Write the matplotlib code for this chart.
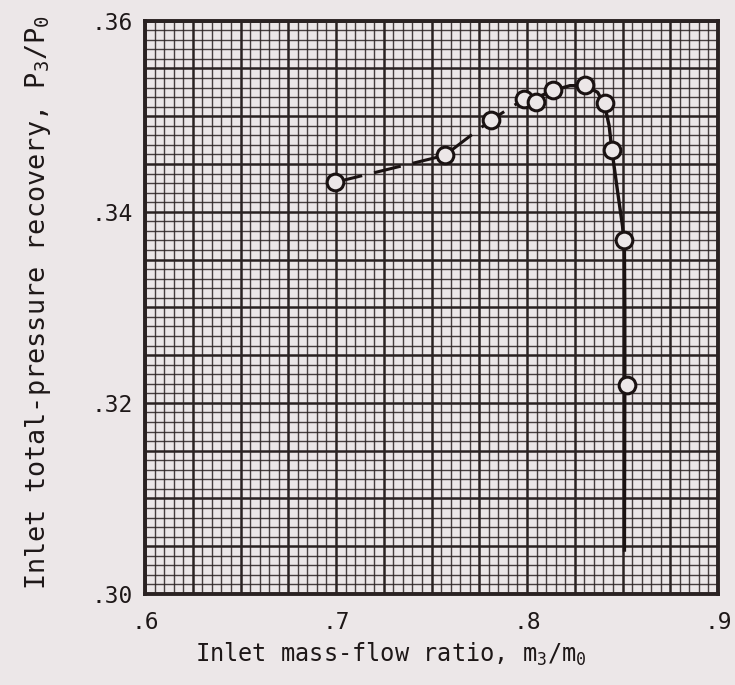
import matplotlib
matplotlib.use("Agg")
import matplotlib.pyplot as plt
from matplotlib.ticker import MultipleLocator, FuncFormatter

# test points (open circles)
mass_flow = [0.6997, 0.7569, 0.7811, 0.7985, 0.8045, 0.8137, 0.8306, 0.8406, 0.8444, 0.8510, 0.8522]
recovery = [0.3431, 0.3459, 0.3496, 0.3518, 0.3515, 0.3527, 0.3533, 0.3514, 0.3465, 0.3370, 0.3219]

# faired curve, dashed part
dash_x = [0.6997, 0.7569, 0.7811, 0.7985]
dash_y = [0.3431, 0.3459, 0.3496, 0.3518]

# faired curve, solid part
solid_x = [0.7985, 0.8045, 0.8137, 0.8225, 0.8306, 0.8370, 0.8406, 0.8430, 0.8444,
           0.8475, 0.8500, 0.8510, 0.8512, 0.8512, 0.8510]
solid_y = [0.3518, 0.3519, 0.3527, 0.3532, 0.3532, 0.3525, 0.3512, 0.3490, 0.3465,
           0.3420, 0.3385, 0.3360, 0.3300, 0.3220, 0.3046]

paper = "#ece7e8"
ink = "#2a2222"

plt.rcParams["font.family"] = ["DejaVu Sans Mono"]
plt.rcParams["mathtext.default"] = "regular"

fig = plt.figure(figsize=(7.35, 6.85), dpi=100, facecolor=paper)
ax = fig.add_axes([0.1973, 0.1328, 0.7796, 0.8370])
ax.set_facecolor(paper)

ax.set_xlim(0.6, 0.9)
ax.set_ylim(0.30, 0.36)

# graph paper
ax.xaxis.set_major_locator(MultipleLocator(0.025))
ax.xaxis.set_minor_locator(MultipleLocator(0.005))
ax.yaxis.set_major_locator(MultipleLocator(0.005))
ax.yaxis.set_minor_locator(MultipleLocator(0.001))
ax.grid(which="minor", color=ink, linewidth=1.0, alpha=0.85)
ax.grid(which="major", color=ink, linewidth=1.8)
ax.set_axisbelow(True)


def fmt_x(v, pos):
    if abs(v * 10 - round(v * 10)) < 1e-6:
        return ("%.1f" % v)[1:]
    return ""


def fmt_y(v, pos):
    if abs(v * 50 - round(v * 50)) < 1e-6:
        return ("%.2f" % v)[1:]
    return ""


ax.xaxis.set_major_formatter(FuncFormatter(fmt_x))
ax.yaxis.set_major_formatter(FuncFormatter(fmt_y))
ax.tick_params(which="both", length=0, labelsize=16.5, colors="#1e1818")
ax.tick_params(axis="x", pad=12)
ax.tick_params(axis="y", pad=9)

for s in ax.spines.values():
    s.set_linewidth(2.8)
    s.set_color(ink)

ax.plot(dash_x, dash_y, color="#1a1212", linewidth=2.2, dashes=(9, 4), zorder=3)
ax.plot(solid_x, solid_y, color="#1a1212", linewidth=2.4, zorder=3)
ax.plot(mass_flow, recovery, "o", markersize=12, markerfacecolor=paper,
        markeredgecolor="#1a1212", markeredgewidth=2.2, zorder=4)

ax.set_xlabel(r"Inlet mass-flow ratio, $m_3/m_0$", fontsize=17, color="#1e1818", va="center")
ax.xaxis.set_label_coords(0.43, -0.106)
ax.set_ylabel(r"Inlet total-pressure recovery, $P_3/P_0$", fontsize=19.4, color="#1e1818",
              va="center", ha="center")
ax.yaxis.set_label_coords(-0.187, 0.509)

plt.savefig("out.png", dpi=100, facecolor=paper)
